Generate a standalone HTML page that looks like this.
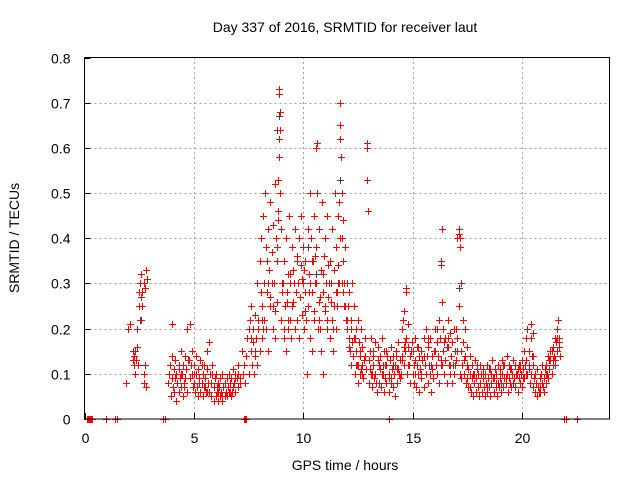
<!DOCTYPE html>
<html><head><meta charset="utf-8"><style>
body{margin:0;background:#fff;}
svg{display:block;font-family:"Liberation Sans",sans-serif;}
</style></head><body>
<svg id="chart" width="640" height="480">
<text x="345" y="32" text-anchor="middle" font-size="14" fill="#000">Day 337 of 2016, SRMTID for receiver laut</text>
<text x="345" y="470" text-anchor="middle" font-size="14" fill="#000">GPS time / hours</text>
<text transform="translate(19,238) rotate(-90)" text-anchor="middle" font-size="14" fill="#000">SRMTID / TECUs</text>
<g id="grid"></g><g id="ticks"></g><g id="marksBlack"></g><g id="marksRed"></g>
<rect x="84.5" y="57.5" width="525" height="361.5" fill="none" stroke="#000" stroke-width="1"/>
</svg>
<script>
const xTicks=[0,5,10,15,20];
const yTicks=[0,0.1,0.2,0.3,0.4,0.5,0.6,0.7,0.8];
const yTickLabels=["0","0.1","0.2","0.3","0.4","0.5","0.6","0.7","0.8"];
const redT=[0.1,0.15,0.2,0.25,0.3,0.35,1.0,1.4,1.5,1.9,2.0,2.1,2.2,2.2,2.25,2.25,2.3,2.3,2.35,2.4,2.4,2.45,2.5,2.5,2.55,2.55,2.6,2.6,2.65,2.65,2.7,2.7,2.72,2.75,2.75,2.8,2.8,2.85,3.6,3.7,
3.8,3.85,3.9,3.95,4.0,4.0,4.05,4.1,4.1,4.15,4.2,4.2,4.25,4.3,4.3,4.35,4.4,4.4,4.45,4.5,4.5,4.55,4.6,4.6,4.65,4.7,4.7,4.75,4.8,4.8,4.85,4.9,4.9,4.95,
5.0,5.0,5.05,5.1,5.1,5.15,5.2,5.2,5.25,5.3,5.3,5.35,5.4,5.4,5.45,5.5,5.5,5.55,5.6,5.6,5.65,5.7,5.7,5.75,5.8,5.8,5.85,5.9,5.9,5.95,6.0,6.0,6.05,6.1,6.1,6.15,6.2,6.2,6.25,6.3,6.3,6.35,6.4,6.4,6.45,6.5,6.5,6.55,6.6,6.6,6.65,6.7,6.7,6.75,6.8,6.8,6.85,6.9,6.9,6.95,7.0,7.0,7.1,7.3,7.35,7.4,
7.2,7.25,7.3,7.35,7.4,7.45,7.5,7.5,7.55,7.6,7.6,7.65,7.7,7.7,7.75,7.8,7.8,7.85,7.9,7.9,7.95,
8.0,8.0,8.05,8.1,8.1,8.15,8.2,8.2,8.25,8.3,8.3,8.35,8.4,8.4,8.45,8.5,8.5,8.55,8.6,8.6,8.65,8.7,8.7,8.75,8.8,8.8,8.85,8.9,8.9,8.9,8.92,8.95,8.95,9.0,9.0,9.05,9.1,9.1,9.15,9.2,9.2,9.25,9.3,9.3,9.35,9.4,9.4,9.45,9.5,9.5,9.55,9.6,9.6,9.65,9.7,9.7,9.75,9.8,9.8,9.85,9.9,9.9,9.95,
10.0,10.0,10.05,10.1,10.1,10.15,10.2,10.2,10.25,10.3,10.3,10.35,10.4,10.4,10.45,10.5,10.5,10.55,10.6,10.6,10.62,10.65,10.7,10.7,10.75,10.8,10.8,10.85,10.9,10.9,10.95,11.0,11.0,11.05,11.1,11.1,11.15,11.2,11.2,11.25,11.3,11.3,11.35,11.4,11.4,11.45,11.5,11.5,11.55,11.6,11.6,11.65,11.7,11.7,11.7,11.72,11.75,11.75,11.8,11.8,11.85,11.9,11.9,11.95,
12.0,12.0,12.05,12.1,12.1,12.15,12.2,12.2,12.25,12.3,12.3,12.35,12.4,12.4,12.45,12.5,12.5,12.55,12.6,12.6,12.65,12.7,12.7,12.75,12.8,12.8,12.85,12.9,12.9,12.95,
13.0,13.0,13.05,13.1,13.1,13.15,13.2,13.2,13.25,13.3,13.3,13.35,13.4,13.4,13.45,13.5,13.5,13.55,13.6,13.6,13.65,13.7,13.7,13.75,13.8,13.8,13.85,13.9,13.9,13.95,14.0,14.0,14.05,14.1,14.1,14.15,14.2,14.2,14.25,14.3,14.3,14.35,14.4,14.4,14.45,14.5,14.5,14.55,14.6,14.6,14.65,14.7,14.7,14.75,14.8,14.8,14.85,14.9,14.9,14.95,
15.0,15.0,15.05,15.1,15.1,15.15,15.2,15.2,15.25,15.3,15.3,15.35,15.4,15.4,15.45,15.5,15.5,15.55,15.6,15.6,15.65,15.7,15.7,15.75,15.8,15.8,15.85,15.9,15.9,15.95,16.0,16.0,16.05,16.1,16.1,16.15,16.2,16.2,16.25,16.3,16.3,16.35,16.4,16.4,16.45,16.5,16.5,16.55,16.6,16.6,16.65,16.7,16.7,16.75,16.8,16.8,16.85,16.9,16.9,16.95,
17.0,17.0,17.05,17.1,17.1,17.15,17.2,17.2,17.25,17.3,17.3,17.35,17.4,17.4,17.45,17.5,17.5,17.55,17.6,17.6,17.65,17.7,17.7,17.75,17.8,17.8,17.85,17.9,17.9,17.95,18.0,18.0,18.05,18.1,18.1,18.15,18.2,18.2,18.25,18.3,18.3,18.35,18.4,18.4,18.45,18.5,18.5,18.55,18.6,18.6,18.65,18.7,18.7,18.75,18.8,18.8,18.85,18.9,18.9,18.95,
19.0,19.0,19.05,19.1,19.1,19.15,19.2,19.2,19.25,19.3,19.3,19.35,19.4,19.4,19.45,19.5,19.5,19.55,19.6,19.6,19.65,19.7,19.7,19.75,19.8,19.8,19.85,19.9,19.9,19.95,20.0,20.0,20.05,20.1,20.1,20.15,20.2,20.2,20.25,20.3,20.3,20.35,20.4,20.4,20.45,20.5,20.5,20.55,20.6,20.6,20.65,20.7,20.7,20.75,20.8,20.8,20.85,20.9,20.9,20.95,
21.0,21.0,21.05,21.1,21.1,21.15,21.2,21.2,21.25,21.3,21.3,21.35,21.4,21.4,21.45,21.5,21.5,21.55,21.6,21.6,21.65,21.7,21.7,21.75,13.9,21.9,22.0,22.5,4.0,16.3,16.35,17.05,17.1,17.15,12.9,12.95,14.7,20.4,20.5,8.85,8.9,8.95];
const redV=[0,0,0,0,0,0,0,0,0,0.08,0.2,0.21,0.15,0.13,0.14,0.12,0.15,0.1,0.13,0.16,0.2,0.12,0.25,0.28,0.3,0.22,0.32,0.27,0.25,0.28,0.1,0.3,0.08,0.12,0.29,0.33,0.07,0.31,0,0,
0.08,0.1,0.12,0.05,0.09,0.14,0.07,0.11,0.06,0.13,0.04,0.1,0.08,0.12,0.06,0.09,0.15,0.07,0.1,0.12,0.05,0.08,0.14,0.09,0.11,0.06,0.2,0.13,0.21,0.09,0.12,0.1,0.15,0.07,
0.08,0.12,0.06,0.1,0.14,0.07,0.05,0.11,0.09,0.13,0.06,0.08,0.1,0.05,0.12,0.07,0.09,0.06,0.15,0.11,0.08,0.17,0.06,0.1,0.05,0.08,0.12,0.04,0.07,0.09,0.05,0.1,0.06,0.08,0.04,0.07,0.09,0.05,0.06,0.1,0.04,0.07,0.08,0.05,0.06,0.09,0.05,0.07,0.1,0.06,0.08,0.05,0.09,0.06,0.11,0.07,0.08,0.1,0.06,0.09,0.12,0.07,0.09,0,0,0,
0.15,0.1,0.12,0.08,0.14,0.18,0.2,0.1,0.22,0.15,0.25,0.12,0.17,0.2,0.1,0.23,0.14,0.18,0.3,0.12,0.2,
0.35,0.15,0.4,0.25,0.18,0.45,0.3,0.22,0.5,0.38,0.2,0.28,0.42,0.15,0.33,0.48,0.25,0.37,0.2,0.43,0.3,0.52,0.18,0.4,0.26,0.35,0.46,0.73,0.72,0.58,0.68,0.64,0.5,0.22,0.42,0.3,0.18,0.35,0.25,0.15,0.4,0.28,0.2,0.32,0.45,0.22,0.3,0.18,0.38,0.25,0.33,0.2,0.42,0.28,0.35,0.22,0.3,0.4,0.18,0.27,0.34,0.45,0.23,
0.3,0.38,0.2,0.35,0.28,0.1,0.42,0.25,0.32,0.5,0.18,0.4,0.28,0.15,0.35,0.45,0.22,0.3,0.6,0.38,0.61,0.5,0.26,0.42,0.2,0.33,0.15,0.48,0.28,0.1,0.36,0.24,0.4,0.3,0.2,0.45,0.27,0.35,0.18,0.3,0.42,0.22,0.15,0.33,0.25,0.5,0.2,0.38,0.28,0.45,0.3,0.48,0.7,0.65,0.62,0.58,0.5,0.4,0.35,0.44,0.3,0.25,0.38,0.22,
0.3,0.2,0.25,0.18,0.28,0.15,0.22,0.12,0.3,0.18,0.25,0.1,0.2,0.15,0.12,0.22,0.08,0.17,0.14,0.1,0.2,0.12,0.16,0.09,0.14,0.18,0.11,0.61,0.53,0.46,
0.13,0.08,0.15,0.1,0.18,0.07,0.12,0.15,0.09,0.17,0.1,0.06,0.13,0.16,0.08,0.11,0.14,0.07,0.1,0.18,0.12,0.06,0.15,0.09,0.12,0.08,0.14,0.1,0.06,0.13,0.09,0.16,0.11,0.07,0.14,0.1,0.12,0.05,0.15,0.08,0.11,0.17,0.09,0.13,0.1,0.2,0.14,0.22,0.12,0.24,0.15,0.18,0.29,0.1,0.16,0.21,0.12,0.14,0.08,0.17,
0.1,0.15,0.08,0.13,0.18,0.07,0.12,0.16,0.1,0.14,0.06,0.11,0.15,0.09,0.13,0.18,0.07,0.12,0.2,0.1,0.14,0.08,0.16,0.12,0.1,0.18,0.06,0.14,0.11,0.09,0.15,0.2,0.12,0.1,0.17,0.14,0.22,0.08,0.18,0.34,0.12,0.26,0.2,0.15,0.1,0.18,0.13,0.08,0.16,0.22,0.12,0.1,0.19,0.14,0.08,0.17,0.12,0.2,0.1,0.15,
0.13,0.2,0.18,0.42,0.25,0.4,0.15,0.3,0.12,0.22,0.17,0.1,0.14,0.2,0.08,0.12,0.16,0.07,0.1,0.14,0.06,0.09,0.12,0.05,0.1,0.08,0.13,0.06,0.09,0.11,0.07,0.1,0.05,0.08,0.12,0.06,0.09,0.11,0.07,0.1,0.05,0.08,0.12,0.06,0.09,0.07,0.11,0.05,0.1,0.08,0.13,0.06,0.09,0.11,0.07,0.1,0.05,0.08,0.12,0.07,
0.09,0.11,0.06,0.1,0.13,0.07,0.09,0.12,0.08,0.1,0.14,0.06,0.09,0.12,0.08,0.11,0.07,0.1,0.13,0.08,0.09,0.12,0.07,0.1,0.11,0.06,0.09,0.12,0.08,0.1,0.13,0.07,0.11,0.09,0.15,0.12,0.18,0.1,0.2,0.15,0.12,0.08,0.18,0.1,0.14,0.07,0.12,0.09,0.06,0.1,0.08,0.05,0.11,0.07,0.09,0.06,0.1,0.08,0.12,0.07,
0.06,0.09,0.11,0.08,0.12,0.1,0.14,0.09,0.11,0.13,0.15,0.1,0.12,0.16,0.14,0.18,0.13,0.17,0.2,0.15,0.22,0.18,0.16,0.14,0,0,0,0,0.21,0.35,0.42,0.4,0.41,0.38,0.6,0.46,0.28,0.21,0.19,0.53,0.62,0.5];
// extra red points for the dense core regions
const red2T=[4.12,4.33,4.57,4.78,5.02,5.23,5.38,5.62,5.83,6.07,6.28,6.42,6.63,6.88,7.03,7.62,7.78,7.92,8.07,8.18,8.33,8.47,8.58,8.72,8.83,9.03,9.13,9.27,9.38,9.48,9.58,9.72,9.83,9.93,10.03,10.13,10.27,10.38,10.48,10.58,10.68,10.78,10.88,10.98,11.08,11.18,11.28,11.38,11.48,11.58,11.68,11.78,11.88,11.98,12.08,12.18,12.28,12.38,12.48,12.58,12.68,12.78,13.03,13.18,13.33,13.48,13.63,13.78,13.93,14.08,14.23,14.38,14.53,14.63,14.78,14.93,15.08,15.23,15.38,15.53,15.68,15.83,15.98,16.13,16.28,16.43,16.58,16.73,16.88,17.03,17.18,17.33,17.48,17.63,17.78,17.93,18.08,18.23,18.38,18.53,18.68,18.83,18.98,19.13,19.28,19.43,19.58,19.73,19.88,20.03,20.18,20.33,20.48,20.63,20.78,20.93,21.08,21.23,21.38,21.53,21.68,
8.12,8.38,8.62,8.78,9.08,9.32,9.52,9.78,10.08,10.32,10.52,10.72,10.92,11.12,11.32,11.52,11.62,11.82,12.02,12.22,12.42,12.62,13.12,13.42,13.72,14.02,14.32,14.62,14.88,15.12,15.42,15.72,16.02,16.32,16.62,16.92,17.22,17.52,17.82,18.12,18.42,18.72,19.02,19.32,19.62,19.92,20.22,20.52,20.82,21.12,21.42,21.62,5.48,6.12,6.52,4.42,4.88,7.12];
const red2V=[0.09,0.11,0.07,0.13,0.1,0.08,0.12,0.06,0.1,0.07,0.05,0.08,0.06,0.09,0.1,0.18,0.15,0.22,0.28,0.2,0.35,0.27,0.3,0.24,0.44,0.28,0.2,0.26,0.32,0.25,0.3,0.36,0.27,0.31,0.33,0.22,0.28,0.35,0.24,0.3,0.2,0.27,0.32,0.25,0.22,0.3,0.26,0.2,0.28,0.34,0.4,0.3,0.25,0.2,0.16,0.2,0.14,0.18,0.12,0.15,0.1,0.13,0.11,0.14,0.08,0.12,0.1,0.15,0.09,0.12,0.14,0.1,0.13,0.17,0.12,0.15,0.12,0.16,0.1,0.14,0.18,0.12,0.15,0.2,0.13,0.17,0.16,0.12,0.2,0.15,0.1,0.13,0.09,0.07,0.1,0.12,0.08,0.1,0.07,0.11,0.09,0.08,0.1,0.12,0.09,0.11,0.08,0.1,0.12,0.09,0.13,0.11,0.14,0.08,0.06,0.08,0.1,0.13,0.15,0.12,0.17,
0.22,0.3,0.25,0.38,0.3,0.22,0.26,0.3,0.24,0.3,0.36,0.22,0.28,0.34,0.22,0.25,0.3,0.28,0.22,0.17,0.12,0.11,0.1,0.13,0.12,0.08,0.11,0.16,0.14,0.1,0.13,0.17,0.15,0.12,0.18,0.12,0.09,0.11,0.08,0.1,0.07,0.09,0.08,0.1,0.09,0.11,0.1,0.12,0.07,0.1,0.13,0.18,0.07,0.06,0.05,0.1,0.12,0.08];
const blackT=[2.6,8.8,8.9,10.2,10.6,11.7,12.9,16.3,17.1];
const blackV=[0.22,0.64,0.67,0.38,0.32,0.53,0.53,0.34,0.29];

const X0=84.5,X1=609.5,Y0=419,Y1=57.5;
const xs=t=>X0+(t/24)*(X1-X0);
const ys=v=>Y0-(v/0.8)*(Y0-Y1);
const NS="http://www.w3.org/2000/svg";
function mk(tag,attrs,parent){const e=document.createElementNS(NS,tag);for(const k in attrs)e.setAttribute(k,attrs[k]);parent.appendChild(e);return e;}
const grid=document.getElementById('grid'),ticks=document.getElementById('ticks');
yTicks.forEach((v,i)=>{
  const y=Math.round(ys(v))+0.5;
  if(i>0&&i<yTicks.length-1){const g=mk('line',{x1:X0,x2:X1,y1:y,y2:y,stroke:'#a0a0a0','stroke-dasharray':'2,3'},grid);
  
  }
  const tk=mk('line',{x1:X0,x2:X0+6,y1:y,y2:y,stroke:'#000'},ticks);
  
  
  const tl=mk('text',{x:X0-14,y:y+5,'text-anchor':'end','font-size':'14',fill:'#000'},ticks);
  tl.textContent=yTickLabels[i];
  
  
});
xTicks.forEach((t,i)=>{
  const x=Math.round(xs(t))+0.5;
  if(i>0){const g=mk('line',{x1:x,x2:x,y1:Y0,y2:Y1,stroke:'#a0a0a0','stroke-dasharray':'2,3'},grid);
  
  }
  const tk=mk('line',{x1:x,x2:x,y1:Y0,y2:Y0-6,stroke:'#000'},ticks);
  
  
  const tl=mk('text',{x:x,y:Y0+24,'text-anchor':'middle','font-size':'14',fill:'#000'},ticks);
  tl.textContent=String(t);
  
  
});
function plus(g,t,v,col,name){
  const x=Math.round(xs(t))+0.5,y=Math.round(ys(v))+0.5;
  const p=mk('path',{d:`M${x-3.5},${y}H${x+3.5}M${x},${y-3.5}V${y+3.5}`,stroke:col,'stroke-width':'1',fill:'none','shape-rendering':'crispEdges'},g);
  
  
}
const gb=document.getElementById('marksBlack'),gr=document.getElementById('marksRed');
blackT.forEach((t,i)=>plus(gb,t,blackV[i],'#444','point-dark'));
redT.forEach((t,i)=>plus(gr,t,redV[i],'#ff0000','point-red'));
red2T.forEach((t,i)=>plus(gr,t,red2V[i],'#ff0000','point-red'));
</script>
</body></html>
